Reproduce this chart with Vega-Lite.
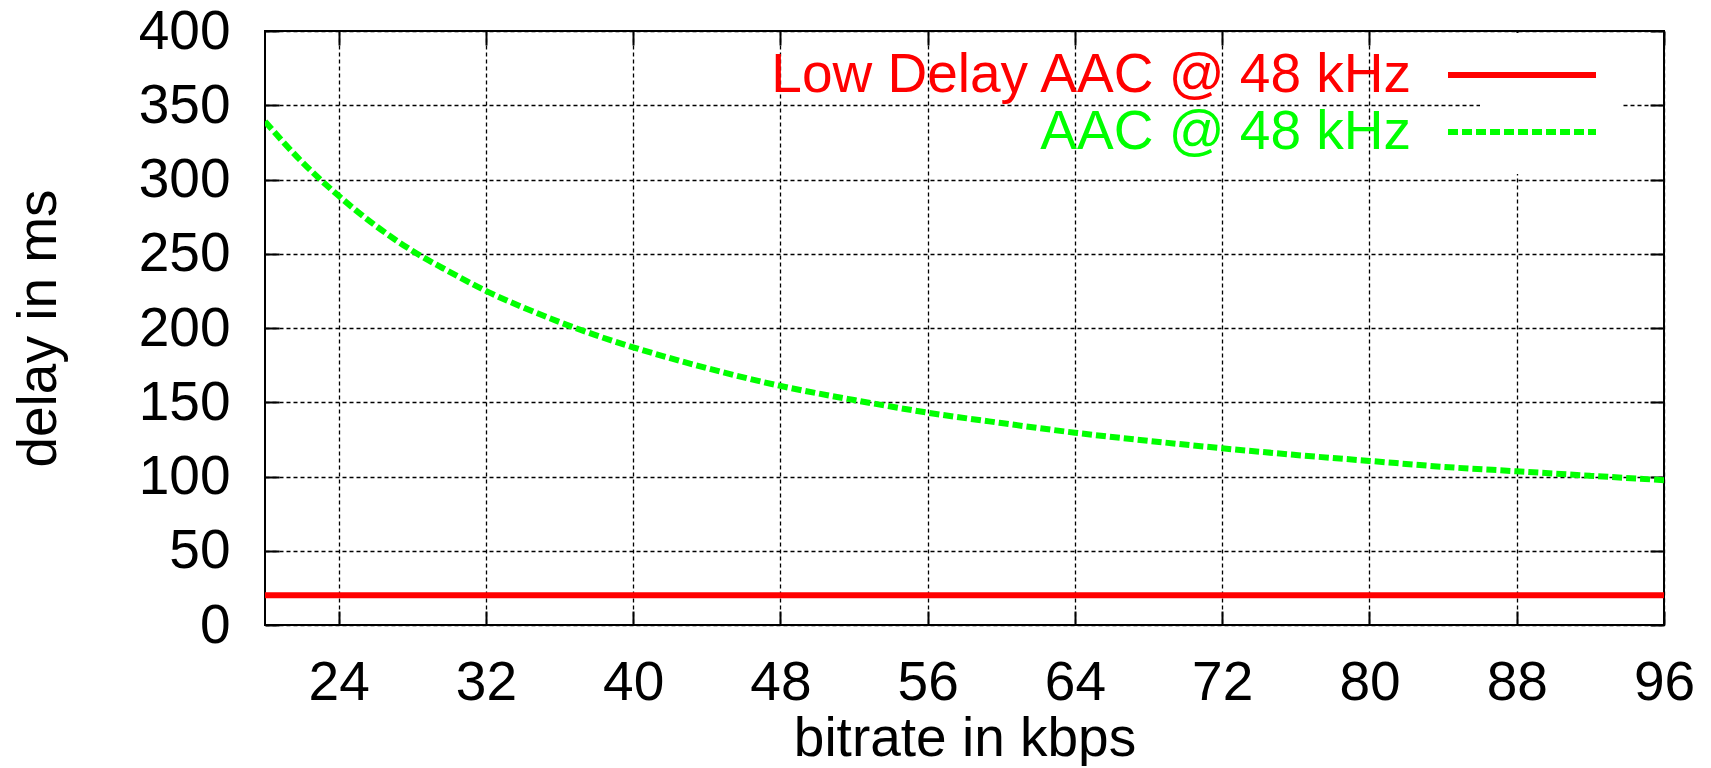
{
  "$schema": "https://vega.github.io/schema/vega-lite/v6.json",
  "width": 1399,
  "height": 594,
  "padding": 0,
  "background": "white",
  "config": {
    "font": "Liberation Sans",
    "view": {"stroke": "black", "strokeWidth": 2},
    "axis": {
      "labelFont": "Liberation Sans",
      "titleFont": "Liberation Sans",
      "labelFontSize": 55,
      "titleFontSize": 55,
      "titleFontWeight": "normal",
      "labelColor": "black",
      "titleColor": "black",
      "domain": false,
      "tickColor": "black",
      "tickWidth": 2,
      "tickSize": -14,
      "gridColor": "black",
      "gridDash": [4, 3],
      "gridWidth": 1.3,
      "gridOpacity": 1,
      "labelOverlap": false,
      "labelFlush": false
    },
    "legend": {
      "title": null,
      "orient": "none",
      "legendX": 1215,
      "legendY": 2,
      "padding": 14,
      "fillColor": "white",
      "labelFont": "Liberation Sans",
      "labelFontSize": 55,
      "labelLimit": 2000,
      "labelAlign": "right",
      "labelOffset": -139,
      "symbolType": "M-3,0H3",
      "symbolSize": 2434,
      "symbolStrokeWidth": 6,
      "rowPadding": 1
    }
  },
  "data": {
    "values": [
      {"series": "Low Delay AAC @ 48 kHz", "bitrate": 20, "delay": 20},
      {"series": "Low Delay AAC @ 48 kHz", "bitrate": 96, "delay": 20},
      {"series": "AAC @ 48 kHz", "bitrate": 20, "delay": 339},
      {"series": "AAC @ 48 kHz", "bitrate": 22, "delay": 312},
      {"series": "AAC @ 48 kHz", "bitrate": 24, "delay": 289},
      {"series": "AAC @ 48 kHz", "bitrate": 26, "delay": 269},
      {"series": "AAC @ 48 kHz", "bitrate": 28, "delay": 252},
      {"series": "AAC @ 48 kHz", "bitrate": 30, "delay": 238},
      {"series": "AAC @ 48 kHz", "bitrate": 32, "delay": 225},
      {"series": "AAC @ 48 kHz", "bitrate": 34, "delay": 214},
      {"series": "AAC @ 48 kHz", "bitrate": 36, "delay": 204},
      {"series": "AAC @ 48 kHz", "bitrate": 38, "delay": 195},
      {"series": "AAC @ 48 kHz", "bitrate": 40, "delay": 187},
      {"series": "AAC @ 48 kHz", "bitrate": 44, "delay": 173},
      {"series": "AAC @ 48 kHz", "bitrate": 48, "delay": 161},
      {"series": "AAC @ 48 kHz", "bitrate": 52, "delay": 151.5},
      {"series": "AAC @ 48 kHz", "bitrate": 56, "delay": 143},
      {"series": "AAC @ 48 kHz", "bitrate": 60, "delay": 136},
      {"series": "AAC @ 48 kHz", "bitrate": 64, "delay": 129.5},
      {"series": "AAC @ 48 kHz", "bitrate": 68, "delay": 124},
      {"series": "AAC @ 48 kHz", "bitrate": 72, "delay": 119},
      {"series": "AAC @ 48 kHz", "bitrate": 76, "delay": 114.5},
      {"series": "AAC @ 48 kHz", "bitrate": 80, "delay": 110.5},
      {"series": "AAC @ 48 kHz", "bitrate": 84, "delay": 106.5},
      {"series": "AAC @ 48 kHz", "bitrate": 88, "delay": 103.5},
      {"series": "AAC @ 48 kHz", "bitrate": 92, "delay": 100.5},
      {"series": "AAC @ 48 kHz", "bitrate": 96, "delay": 97.5}
    ]
  },
  "layer": [
    {
      "mark": {"type": "line", "strokeWidth": 6, "interpolate": "monotone", "clip": true, "strokeCap": "butt"},
      "encoding": {
        "x": {
          "field": "bitrate", "type": "quantitative",
          "scale": {"domain": [20, 96], "nice": false, "zero": false},
          "axis": {
            "orient": "bottom",
            "values": [24, 32, 40, 48, 56, 64, 72, 80, 88, 96],
            "grid": true,
            "labelPadding": 45,
            "title": "bitrate in kbps",
            "titleY": 130,
            "titleBaseline": "alphabetic"
          }
        },
        "y": {
          "field": "delay", "type": "quantitative",
          "scale": {"domain": [0, 400], "nice": false},
          "axis": {
            "orient": "left",
            "values": [0, 50, 100, 150, 200, 250, 300, 350, 400],
            "grid": true,
            "labelPadding": 49,
            "minExtent": 265,
            "maxExtent": 265,
            "title": "delay in ms",
            "titleX": -227,
            "titleBaseline": "middle"
          }
        },
        "color": {
          "field": "series", "type": "nominal",
          "scale": {"domain": ["Low Delay AAC @ 48 kHz", "AAC @ 48 kHz"], "range": ["#ff0000", "#00ff00"]},
          "legend": {
            "encode": {"labels": {"update": {"fill": {"scale": "color", "field": "value"}}}}
          }
        },
        "strokeDash": {
          "field": "series", "type": "nominal",
          "scale": {"domain": ["Low Delay AAC @ 48 kHz", "AAC @ 48 kHz"], "range": [[1, 0], [10, 4]]},
          "legend": {
            "encode": {"labels": {"update": {"fill": {"scale": "color", "field": "value"}}}}
          }
        }
      }
    },
    {
      "mark": {"type": "line", "opacity": 0},
      "encoding": {
        "x": {
          "field": "bitrate", "type": "quantitative",
          "axis": {
            "orient": "top",
            "values": [24, 32, 40, 48, 56, 64, 72, 80, 88, 96],
            "grid": false, "labels": false, "title": null,
            "minExtent": 31, "maxExtent": 31
          }
        },
        "y": {
          "field": "delay", "type": "quantitative",
          "axis": {
            "orient": "right",
            "values": [0, 50, 100, 150, 200, 250, 300, 350, 400],
            "grid": false, "labels": false, "title": null
          }
        }
      }
    }
  ],
  "resolve": {"axis": {"x": "independent", "y": "independent"}}
}
